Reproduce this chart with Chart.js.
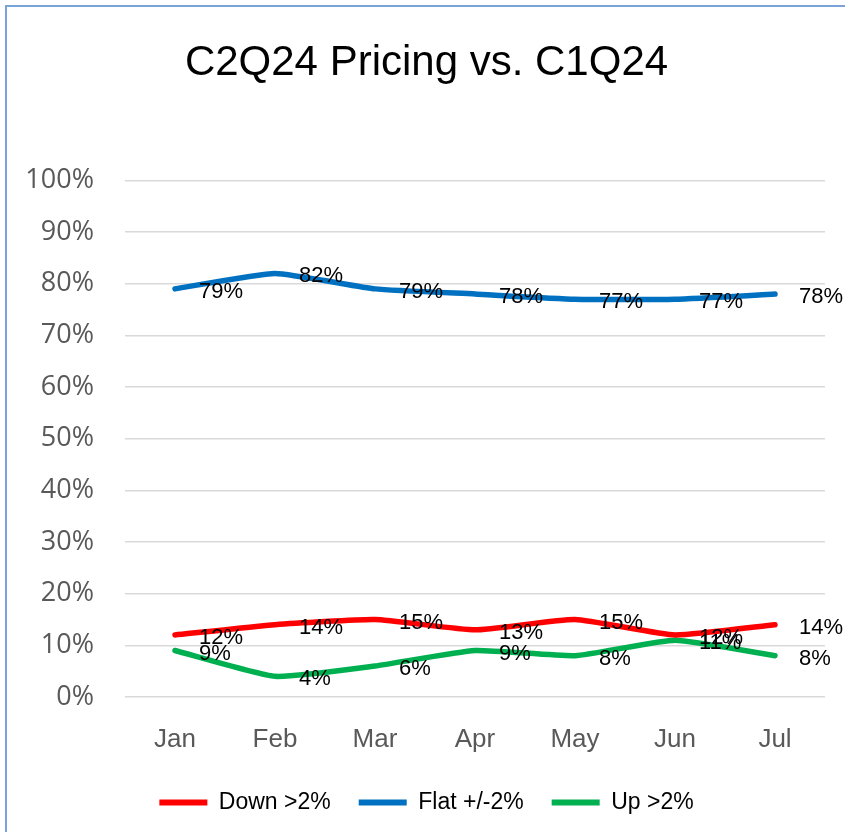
<!DOCTYPE html>
<html>
<head>
<meta charset="utf-8">
<script src="https://cdn.jsdelivr.net/npm/chart.js@4"></script>
<style>
  html, body { margin: 0; padding: 0; background: #ffffff; overflow: hidden; }
  #wrap { position: relative; width: 845px; height: 832px; }
  #frame { position: absolute; left: 5px; top: 5px; width: 900px; height: 900px;
           border-left: 2px solid #7aa3da; border-top: 2px solid #7aa3da; pointer-events: none; }
  canvas { position: absolute; left: 0; top: 0; }
</style>
</head>
<body>
<div id="wrap">
  <canvas id="c" width="845" height="832"></canvas>
  <div id="frame"></div>
</div>
<script>
const title = "C2Q24 Pricing vs. C1Q24";
const months = ["Jan", "Feb", "Mar", "Apr", "May", "Jun", "Jul"];
const seriesNames = ["Down >2%", "Flat +/-2%", "Up >2%"];
const downValues = [12, 14, 15, 13, 15, 12, 14];
const flatValues = [79, 82, 79, 78, 77, 77, 78];
const upValues = [9, 4, 6, 9, 8, 11, 8];
const seriesColors = ["#ff0000", "#0070c0", "#00b050"];
const yTicks = [0, 10, 20, 30, 40, 50, 60, 70, 80, 90, 100];

const labelFont = '22px "Liberation Sans", Arial, sans-serif';

const dataLabels = {
  id: 'dataLabels',
  afterDatasetsDraw(chart) {
    const ctx = chart.ctx;
    ctx.save();
    ctx.font = labelFont;
    ctx.fillStyle = '#000000';
    ctx.textAlign = 'left';
    ctx.textBaseline = 'middle';
    chart.data.datasets.forEach((ds, i) => {
      const meta = chart.getDatasetMeta(i);
      meta.data.forEach((pt, j) => {
        ctx.fillText(ds.data[j] + '%', pt.x + 24, pt.y + 3);
      });
    });
    ctx.restore();
  }
};

// center title and legend on the full canvas width (the reference centers them there)
const recenter = {
  id: 'recenter',
  afterLayout(chart) {
    [chart.titleBlock, chart.legend].forEach(b => {
      if (b) { b.left += 14; b.right += 14; }
    });
  }
};

const allValues = [downValues, flatValues, upValues];

new Chart(document.getElementById('c'), {
  type: 'line',
  data: {
    labels: months,
    datasets: seriesNames.map((name, i) => ({
      label: name,
      data: allValues[i],
      borderColor: seriesColors[i],
      backgroundColor: seriesColors[i],
      borderWidth: 5.5,
      pointRadius: 0,
      pointHoverRadius: 0,
      tension: 0.15,
      borderJoinStyle: 'round',
      borderCapStyle: 'round',
      fill: false,
      clip: false
    }))
  },
  options: {
    responsive: false,
    animation: false,
    events: [],
    layout: { padding: { left: 0, right: 20, top: 0, bottom: 8 } },
    plugins: {
      title: {
        display: true,
        text: title,
        color: '#000000',
        font: { family: '"Liberation Sans", Arial, sans-serif', size: 42, weight: 'normal', lineHeight: 1.2 },
        padding: { top: 38, bottom: 92 }
      },
      legend: {
        display: true,
        position: 'bottom',
        labels: {
          color: '#000000',
          font: { family: '"Liberation Sans", Arial, sans-serif', size: 23 },
          boxWidth: 48,
          boxHeight: 6,
          padding: 28,
          generateLabels(chart) {
            return chart.data.datasets.map((ds, i) => ({
              text: ds.label,
              fillStyle: ds.borderColor,
              strokeStyle: ds.borderColor,
              lineWidth: 0,
              hidden: false,
              datasetIndex: i,
              fontColor: '#000000'
            }));
          }
        }
      },
      tooltip: { enabled: false }
    },
    scales: {
      x: {
        offset: true,
        grid: { display: false, drawTicks: false },
        border: { display: false },
        ticks: {
          color: '#595959',
          font: { family: '"Liberation Sans", Arial, sans-serif', size: 26 },
          padding: 27
        },
        afterFit(scale) { scale.height = 66; }
      },
      y: {
        min: 0,
        max: 100,
        afterBuildTicks(scale) { scale.ticks = yTicks.map(v => ({ value: v })); },
        grid: { color: '#d9d9d9', lineWidth: 1.5, drawTicks: false },
        border: { display: false },
        ticks: {
          color: '#595959',
          font: { family: '"Open Sans", sans-serif', size: 27 },
          padding: 31,
          callback: v => v + '%'
        },
        afterFit(scale) { scale.width = 125; }
      }
    }
  },
  plugins: [dataLabels, recenter]
});
</script>
</body>
</html>
